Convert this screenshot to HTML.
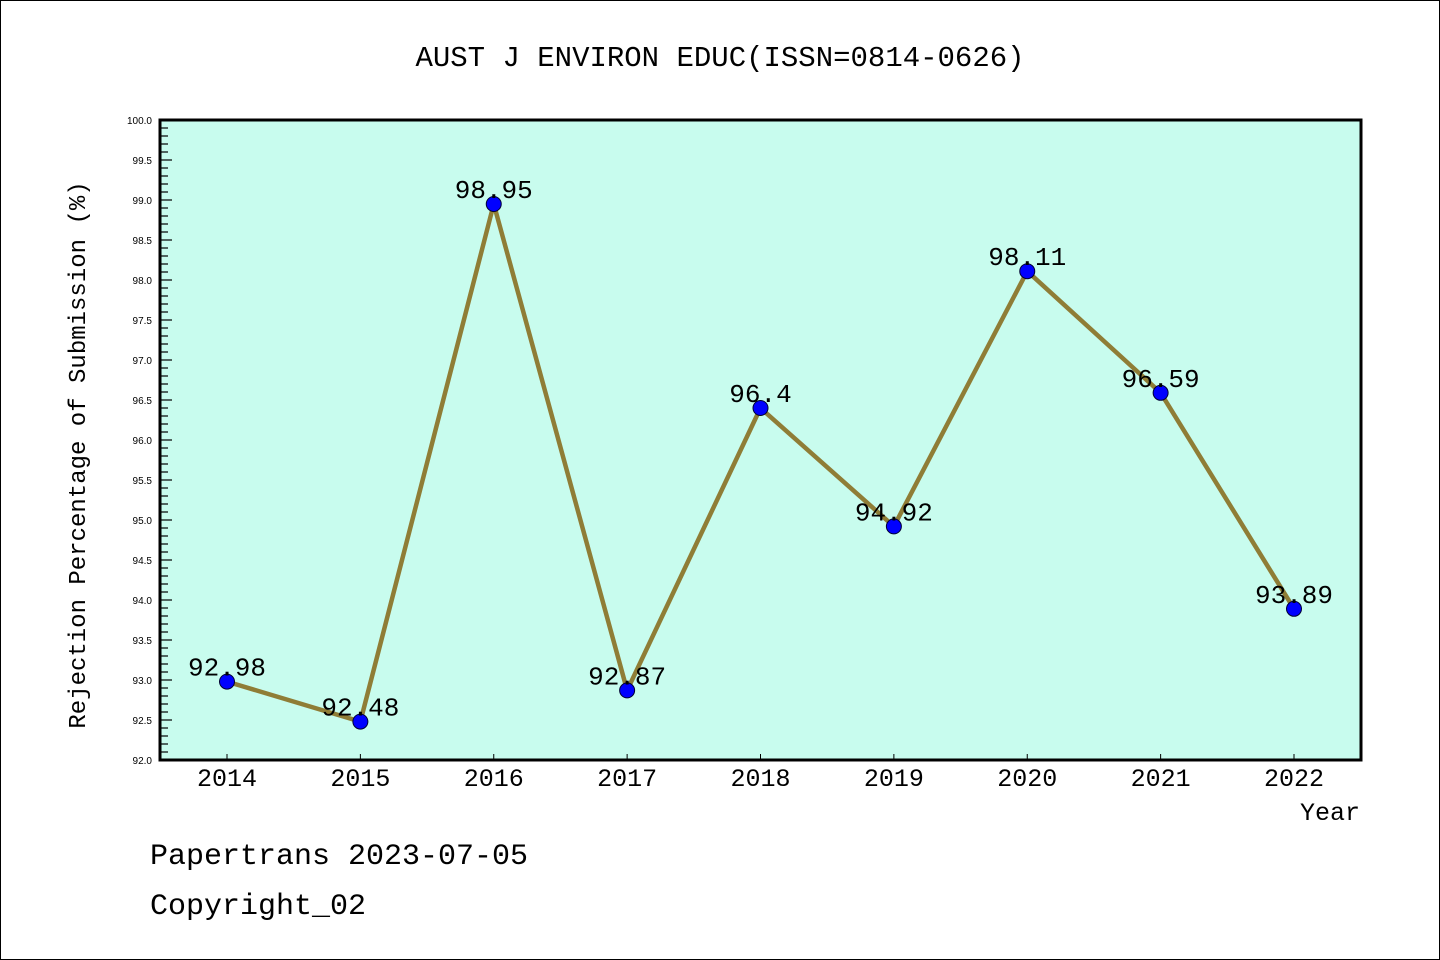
<!DOCTYPE html>
<html><head><meta charset="utf-8"><style>
html,body{margin:0;padding:0;background:#fff}
svg{display:block}
text{font-family:"Liberation Mono","DejaVu Sans Mono",monospace;fill:#000}
</style></head><body>
<svg id="chart" width="1440" height="960" xmlns="http://www.w3.org/2000/svg">
<rect x="0.5" y="0.5" width="1439" height="959" fill="#fff" stroke="#000" stroke-width="1"/>
<text x="720" y="66" font-size="29" text-anchor="middle">AUST J ENVIRON EDUC(ISSN=0814-0626)</text>
<rect x="160" y="120" width="1201" height="640" fill="#c8fcee"/>
<g id="yaxis"></g>
<g id="xaxis"></g>
<g id="series"></g>
<rect x="160" y="120" width="1201" height="640" fill="none" stroke="#000" stroke-width="3"/>
<text transform="translate(85,455) rotate(-90)" font-size="24" text-anchor="middle">Rejection Percentage of Submission (%)</text>
<text x="1360" y="820" font-size="25" text-anchor="end">Year</text>
<text x="150" y="864" font-size="30">Papertrans 2023-07-05</text>
<text x="150" y="914" font-size="30">Copyright_02</text>
</svg>
<script>
const years = ["2014","2015","2016","2017","2018","2019","2020","2021","2022"];
const values = [92.98,92.48,98.95,92.87,96.4,94.92,98.11,96.59,93.89];
const valueLabels = ["92.98","92.48","98.95","92.87","96.4","94.92","98.11","96.59","93.89"];
const yTickLabels = ["92.0","92.5","93.0","93.5","94.0","94.5","95.0","95.5","96.0","96.5","97.0","97.5","98.0","98.5","99.0","99.5","100.0"];
const NS="http://www.w3.org/2000/svg";
const yMin=92,yMax=100,plotTop=120,plotBot=760,plotLeft=160,plotRight=1361;
function yScale(v){return plotBot-(v-yMin)/(yMax-yMin)*(plotBot-plotTop);}
function xScale(i){return 227+i*(1294-227)/(years.length-1);}
function mk(tag,attrs,parent){const e=document.createElementNS(NS,tag);for(const k in attrs)e.setAttribute(k,attrs[k]);parent.appendChild(e);return e;}
const ya=document.getElementById('yaxis');
for(let i=0;i<=80;i++){
  const v=yMin+i*0.1;const y=yScale(v);const major=i%5===0;
  const t=mk('line',{x1:plotLeft,x2:plotLeft+(major?12:8),y1:y,y2:y,stroke:'#000','stroke-width':1.2},ya);
  
  
}
yTickLabels.forEach(l=>{
  const y=yScale(parseFloat(l));
  const t=mk('text',{x:152,y:y+4,'font-size':10,'text-anchor':'end'},ya);
  t.style.fontFamily='"Liberation Sans",sans-serif';
  t.textContent=l;
  
  
});
const xa=document.getElementById('xaxis');
years.forEach((yr,i)=>{
  const x=xScale(i);
  const tk=mk('line',{x1:x,x2:x,y1:plotBot,y2:plotBot-6,stroke:'#000','stroke-width':1},xa);
  
  
  const t=mk('text',{x:x,y:786,'font-size':25,'text-anchor':'middle'},xa);
  t.textContent=yr;
  
  
});
const s=document.getElementById('series');
const pts=values.map((v,i)=>xScale(i)+','+yScale(v)).join(' ');
const pl=mk('polyline',{points:pts,fill:'none',stroke:'#8f7d36','stroke-width':4.5,'stroke-linejoin':'round'},s);


values.forEach((v,i)=>{
  const c=mk('circle',{cx:xScale(i),cy:yScale(v),r:7.5,fill:'#0000ff',stroke:'#000033','stroke-width':1},s);
  
  
  const t=mk('text',{x:xScale(i),y:yScale(v)-6,'font-size':26,'text-anchor':'middle'},s);
  t.textContent=valueLabels[i];
  
  
});
</script>
</body></html>
